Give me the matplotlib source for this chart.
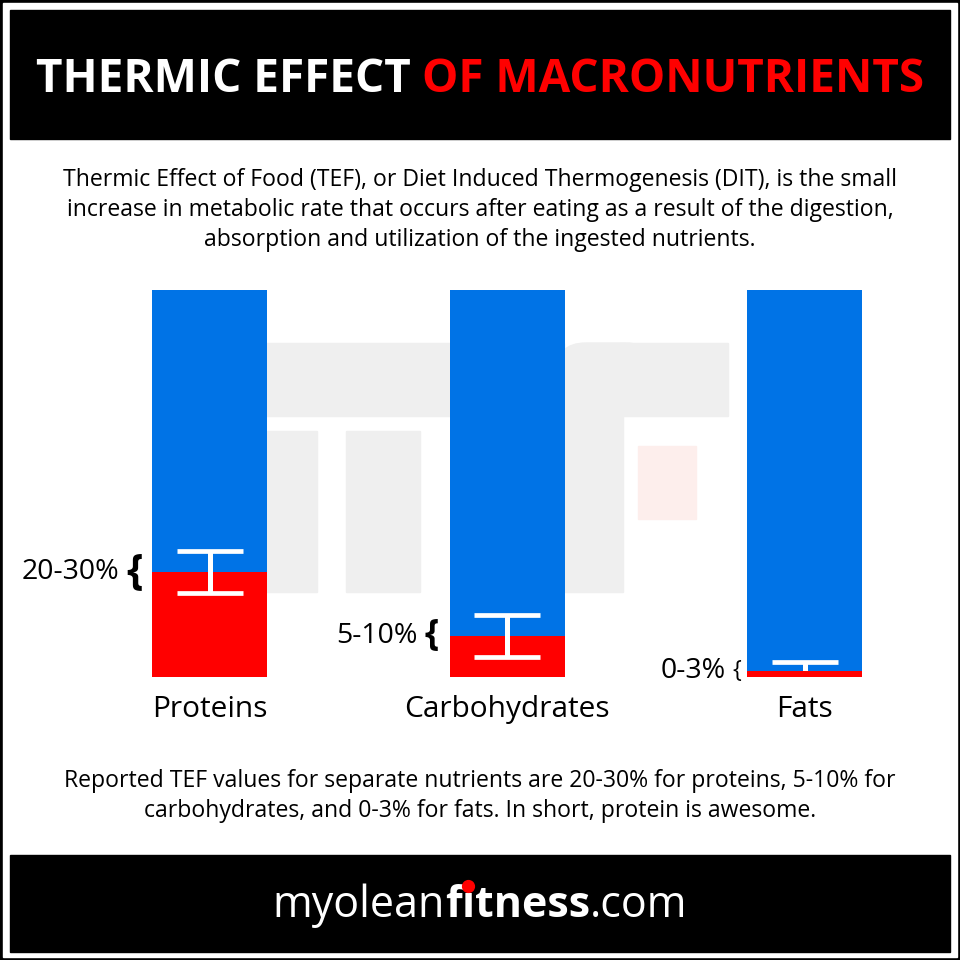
import matplotlib.pyplot as plt
from matplotlib.patches import Rectangle, FancyBboxPatch

plt.rcParams['font.family'] = ['Open Sans', 'DejaVu Sans']

categories = ['Proteins', 'Carbohydrates', 'Fats']
tef_mid = [27.0, 10.4, 1.5]          # % of bar height (red part)
tef_err = [5.4, 5.4, 2.3]
range_labels = ['20-30%', '5-10%', '0-3%']
full_bar = 100

title_white = 'THERMIC EFFECT '
title_red = 'OF MACRONUTRIENTS'
intro_text = ('Thermic Effect of Food (TEF), or Diet Induced Thermogenesis (DIT), is the small\n'
              'increase in metabolic rate that occurs after eating as a result of the digestion,\n'
              'absorption and utilization of the ingested nutrients.')
outro_text = ('Reported TEF values for separate nutrients are 20-30% for proteins, 5-10% for\n'
              'carbohydrates, and 0-3% for fats. In short, protein is awesome.')

BLUE = '#0073E6'
RED = '#FF0000'

fig = plt.figure(figsize=(9.6, 9.6), dpi=100)
fig.patch.set_facecolor('black')

# background layer in pixel coordinates
bg = fig.add_axes([0, 0, 1, 1], zorder=0)
bg.set_xlim(0, 960)
bg.set_ylim(960, 0)
bg.axis('off')
bg.add_patch(Rectangle((3, 3), 954, 954, color='white'))
bg.add_patch(Rectangle((10, 10), 940, 129, color='black'))
bg.add_patch(Rectangle((10, 855), 940, 97, color='black'))

# faint logo watermark behind the bars
wm = '#EFEFEF'
bg.add_patch(Rectangle((200, 343), 364, 73, color=wm))
bg.add_patch(Rectangle((200, 431), 117, 161, color=wm))
bg.add_patch(Rectangle((346, 431), 74, 161, color=wm))
bg.add_patch(FancyBboxPatch((556, 343), 100, 73, boxstyle='round,pad=0,rounding_size=30', color=wm))
bg.add_patch(Rectangle((620, 343), 108, 73, color=wm))
bg.add_patch(Rectangle((540, 390), 83, 202, color=wm))
bg.add_patch(Rectangle((638, 446), 58, 73, color='#FDEEEC'))

# title in two colours
fig.canvas.draw()
r = fig.canvas.get_renderer()
tw = bg.text(0, 79, title_white, color='white', fontsize=33, fontweight='bold', va='center')
tr = bg.text(0, 79, title_red, color=RED, fontsize=33, fontweight='bold', va='center')
w1 = tw.get_window_extent(r).width
w2 = tr.get_window_extent(r).width
x0 = 480 - (w1 + w2) / 2
tw.set_x(x0)
tr.set_x(x0 + w1)

bg.text(480, 210, intro_text, ha='center', va='center', fontsize=16.6, linespacing=1.36, color='black')
bg.text(480, 796, outro_text, ha='center', va='center', fontsize=16.6, linespacing=1.36, color='black')

# website line: myolean + bold fitness (red dot on the i) + .com
pieces = [('myolean', 'normal'), ('f', 'bold'), ('\u0131', 'bold'), ('tness', 'bold'), ('.com', 'normal')]
objs = [bg.text(0, 917, s, color='white', fontsize=31, fontweight=w, va='baseline') for s, w in pieces]
widths = [o.get_window_extent(r).width for o in objs]
x = 480 - sum(widths) / 2
for o, w in zip(objs, widths):
    o.set_x(x)
    x += w
i_left = 480 - sum(widths) / 2 + sum(widths[:2])
bg.plot(i_left + widths[2] / 2, 886, 'o', color=RED, markersize=8.5, zorder=5)

# bar chart
ax = fig.add_axes([60.75 / 960, (960 - 676.5) / 960, 892.5 / 960, 386.5 / 960], zorder=1)
ax.patch.set_alpha(0)
xs = list(range(len(categories)))
bw = 115 / 297.5
ax.bar(xs, [full_bar] * len(xs), width=bw, color=BLUE, zorder=2)
ax.bar(xs, tef_mid, width=bw, color=RED, zorder=3)
for i, (m, e) in enumerate(zip(tef_mid, tef_err)):
    ax.errorbar(i, m, yerr=e, fmt='none', ecolor='white', elinewidth=3.6,
                capsize=24, capthick=3.4, zorder=4 if e > 3 else 2.5)
ax.set_xlim(-0.5, 2.5)
ax.set_ylim(0, full_bar)
ax.axis('off')

brace_sizes = [30, 26, 17]
brace_weights = ['bold', 'bold', 'normal']
brace_gaps = [7, 8, 4]
for i, (m, lab) in enumerate(zip(tef_mid, range_labels)):
    br = ax.annotate('{', xy=(i - bw / 2, m), xytext=(-brace_gaps[i], 0), textcoords='offset points',
                     ha='right', va='center', fontsize=brace_sizes[i], fontweight=brace_weights[i])
    bwid = br.get_window_extent(r).width * 72 / 100
    ax.annotate(lab, xy=(i - bw / 2, m), xytext=(-brace_gaps[i] - bwid - 5, 0),
                textcoords='offset points', ha='right', va='center', fontsize=20.5)
    ax.text(i, -8.5, categories[i], ha='center', va='center', fontsize=21.5, clip_on=False)

fig.savefig('out.png', dpi=100, facecolor='black')
